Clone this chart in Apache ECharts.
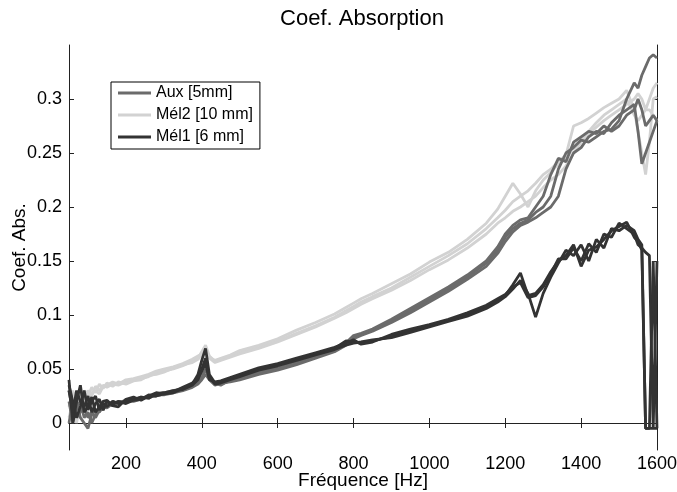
<!DOCTYPE html>
<html>
<head>
<meta charset="utf-8">
<script src="https://cdn.jsdelivr.net/npm/echarts@6/dist/echarts.min.js"></script>
<style>html,body{margin:0;padding:0;background:#fff}#c{width:677px;height:492px}</style>
</head>
<body>
<div id="c"></div>
<script>
// ---- data ----
const freq = [50,60,70,80,90,100,110,120,130,140,150,165,180,200,220,240,260,280,300,325,350,375,390,400,410,420,435,450,475,500,550,600,650,700,750,780,800,820,850,900,950,1000,1050,1100,1150,1180,1200,1220,1240,1260,1280,1300,1320,1340,1360,1380,1400,1420,1440,1460,1480,1500,1520,1540,1550,1560,1570,1580,1590,1600];

const aux1 = [0.03,0.01,0.02,0.005,0.0,-0.005,0.008,0.012,0.01,0.015,0.014,0.018,0.02,0.019,0.022,0.023,0.024,0.025,0.027,0.029,0.031,0.034,0.037,0.043,0.05,0.042,0.036,0.036,0.039,0.041,0.046,0.05,0.055,0.061,0.067,0.073,0.08,0.082,0.086,0.094,0.104,0.114,0.124,0.135,0.148,0.16,0.172,0.18,0.185,0.188,0.195,0.2,0.21,0.235,0.25,0.255,0.262,0.26,0.265,0.27,0.272,0.28,0.3,0.315,0.31,0.322,0.33,0.338,0.341,0.338];
const aux2 = [0.02,0.0,0.015,0.02,0.005,0.01,0.0,0.008,0.015,0.012,0.018,0.016,0.019,0.021,0.02,0.022,0.025,0.026,0.026,0.028,0.03,0.033,0.036,0.04,0.045,0.04,0.035,0.037,0.038,0.04,0.045,0.049,0.054,0.06,0.066,0.072,0.078,0.081,0.085,0.093,0.102,0.112,0.122,0.133,0.145,0.157,0.168,0.177,0.183,0.186,0.19,0.195,0.2,0.21,0.235,0.25,0.255,0.265,0.27,0.268,0.278,0.285,0.29,0.295,0.27,0.24,0.25,0.26,0.27,0.28];
const aux3 = [0.0,0.02,0.005,0.01,0.015,0.005,0.01,0.005,0.012,0.018,0.016,0.02,0.018,0.02,0.021,0.024,0.023,0.027,0.028,0.03,0.032,0.035,0.038,0.045,0.048,0.043,0.037,0.035,0.04,0.042,0.047,0.051,0.056,0.062,0.068,0.074,0.081,0.083,0.087,0.096,0.106,0.116,0.126,0.137,0.15,0.163,0.175,0.183,0.188,0.19,0.2,0.21,0.23,0.245,0.242,0.26,0.265,0.27,0.268,0.275,0.27,0.275,0.285,0.29,0.3,0.29,0.275,0.28,0.285,0.28];

const mel2a = [0.015,0.03,0.02,0.028,0.022,0.03,0.025,0.034,0.03,0.035,0.033,0.036,0.035,0.038,0.04,0.041,0.043,0.046,0.048,0.05,0.053,0.057,0.06,0.066,0.072,0.062,0.057,0.059,0.062,0.065,0.07,0.076,0.083,0.09,0.098,0.104,0.108,0.112,0.117,0.125,0.135,0.145,0.155,0.166,0.18,0.19,0.197,0.205,0.21,0.215,0.222,0.23,0.235,0.242,0.248,0.275,0.278,0.282,0.287,0.292,0.296,0.3,0.308,0.29,0.27,0.25,0.23,0.26,0.3,0.302];
const mel2b = [0.03,0.01,0.025,0.015,0.03,0.025,0.033,0.028,0.036,0.032,0.037,0.034,0.038,0.036,0.039,0.04,0.044,0.045,0.047,0.051,0.054,0.056,0.059,0.063,0.066,0.06,0.056,0.058,0.061,0.064,0.069,0.075,0.082,0.089,0.097,0.102,0.106,0.11,0.115,0.123,0.132,0.142,0.151,0.162,0.175,0.185,0.19,0.196,0.2,0.205,0.21,0.218,0.225,0.23,0.238,0.25,0.26,0.268,0.274,0.28,0.285,0.29,0.295,0.3,0.305,0.3,0.29,0.3,0.31,0.315];
const mel2c = [0.005,0.02,0.0,0.02,0.012,0.02,0.028,0.03,0.027,0.034,0.035,0.038,0.036,0.04,0.041,0.043,0.045,0.048,0.05,0.052,0.055,0.059,0.062,0.064,0.068,0.061,0.058,0.06,0.063,0.067,0.072,0.078,0.086,0.093,0.101,0.107,0.111,0.115,0.12,0.129,0.138,0.149,0.158,0.17,0.185,0.198,0.21,0.222,0.212,0.2,0.215,0.225,0.232,0.24,0.245,0.255,0.262,0.27,0.278,0.285,0.29,0.295,0.3,0.285,0.28,0.285,0.29,0.29,0.285,0.28];

const mel1a = [0.04,0.0,0.02,0.035,0.01,0.015,0.024,0.01,0.015,0.02,0.021,0.016,0.015,0.022,0.024,0.021,0.025,0.028,0.027,0.028,0.032,0.036,0.045,0.058,0.069,0.045,0.037,0.038,0.041,0.044,0.05,0.054,0.059,0.064,0.069,0.076,0.075,0.074,0.076,0.08,0.085,0.09,0.095,0.1,0.108,0.113,0.118,0.128,0.139,0.118,0.12,0.128,0.14,0.15,0.155,0.165,0.145,0.16,0.163,0.17,0.178,0.182,0.186,0.172,0.168,0.16,-0.005,-0.005,-0.005,-0.005];
const mel1b = [0.035,0.02,0.005,0.015,0.03,0.012,0.02,0.025,0.012,0.018,0.015,0.02,0.018,0.02,0.022,0.024,0.023,0.027,0.028,0.03,0.031,0.035,0.04,0.05,0.06,0.042,0.036,0.037,0.04,0.043,0.049,0.053,0.058,0.063,0.068,0.072,0.074,0.075,0.077,0.079,0.084,0.089,0.094,0.099,0.106,0.112,0.117,0.124,0.132,0.12,0.098,0.12,0.135,0.148,0.16,0.155,0.165,0.15,0.17,0.162,0.18,0.178,0.183,0.178,0.17,0.165,-0.005,-0.005,0.15,-0.005];
const mel1c = [0.03,0.01,0.03,0.02,0.015,0.025,0.01,0.018,0.022,0.012,0.02,0.017,0.02,0.018,0.021,0.022,0.026,0.025,0.027,0.029,0.033,0.037,0.042,0.048,0.055,0.04,0.038,0.039,0.042,0.045,0.051,0.055,0.06,0.065,0.07,0.074,0.077,0.073,0.075,0.082,0.087,0.091,0.096,0.102,0.109,0.115,0.119,0.126,0.13,0.116,0.118,0.126,0.138,0.152,0.152,0.162,0.15,0.166,0.158,0.175,0.172,0.185,0.18,0.175,0.165,0.162,0.158,0.155,-0.005,0.15];

const xTicks = [200,400,600,800,1000,1200,1400,1600];
const yTicks = [0,0.05,0.1,0.15,0.2,0.25,0.3];
const names = ['Aux [5mm]','Mél2 [10 mm]','Mél1 [6 mm]'];
const colors = {'Aux [5mm]':'#6b6b6b','Mél2 [10 mm]':'#d2d2d2','Mél1 [6 mm]':'#333333'};

// ---- chart ----
const FONT = '"Liberation Sans", Arial, Helvetica, sans-serif';
const zip = arr => freq.map((f,i)=>[f,arr[i]]);
const mk = (name, arr, z) => ({
  type:'line', name, data: zip(arr), showSymbol:false, symbol:'none',
  lineStyle:{width:2.8, color:colors[name]}, itemStyle:{color:colors[name]},
  z, animation:false, clip:true
});
const series = [
  mk(names[1], mel2a, 2), mk(names[1], mel2b, 2), mk(names[1], mel2c, 2),
  mk(names[0], aux1, 3), mk(names[0], aux2, 3), mk(names[0], aux3, 3),
  mk(names[2], mel1a, 4), mk(names[2], mel1b, 4), mk(names[2], mel1c, 4)
];
const axLine = {show:true, lineStyle:{color:'#222', width:1}};
const lbl = {color:'#000', fontSize:18, fontFamily:FONT};
const chart = echarts.init(document.getElementById('c'), null, {renderer:'canvas'});
chart.setOption({
  animation:false,
  backgroundColor:'#fff',
  textStyle:{fontFamily:FONT},
  title:{text:'Coef. Absorption', left:362, top:8, padding:0, textAlign:'center',
    textStyle:{fontSize:22, fontWeight:'normal', color:'#000', fontFamily:FONT}},
  grid:{left:69, right:20, top:45, bottom:42, containLabel:false, outerBoundsMode:'none'},
  legend:{data:names, orient:'vertical', left:111, top:82, icon:'rect', itemWidth:33, itemHeight:3,
    itemGap:6, padding:[3,7,4,7], borderColor:'#000', borderWidth:1, backgroundColor:'#fff',
    textStyle:{fontSize:16, color:'#000', fontFamily:FONT, lineHeight:16}},
  xAxis:[
    {type:'value', min:50, max:1600, position:'bottom', name:'Fréquence [Hz]', nameLocation:'middle', nameGap:21,
      nameMoveOverlap:false,
      nameTextStyle:{fontSize:19, color:'#000', fontFamily:FONT},
      axisLine:axLine, splitLine:{show:false},
      axisTick:{show:true, inside:true, length:5, customValues:xTicks, lineStyle:{color:'#222'}},
      axisLabel:Object.assign({customValues:xTicks, margin:5, formatter:v=>String(v)}, lbl)},
    {type:'value', min:50, max:1600, position:'top', axisLine:axLine, splitLine:{show:false},
      axisTick:{show:true, inside:true, length:5, customValues:xTicks, lineStyle:{color:'#222'}},
      axisLabel:{show:false}}
  ],
  yAxis:[
    {type:'value', min:-0.025, max:0.35, position:'left', name:'Coef. Abs.', nameLocation:'middle', nameGap:40,
      nameMoveOverlap:false,
      nameTextStyle:{fontSize:19, color:'#000', fontFamily:FONT},
      axisLine:axLine, splitLine:{show:false},
      axisTick:{show:true, inside:true, length:5, customValues:yTicks, lineStyle:{color:'#222'}},
      axisLabel:Object.assign({customValues:yTicks, margin:7, formatter:v=>String(+(+v).toFixed(2))}, lbl)},
    {type:'value', min:-0.025, max:0.35, position:'right', axisLine:axLine, splitLine:{show:false},
      axisTick:{show:true, inside:true, length:5, customValues:yTicks, lineStyle:{color:'#222'}},
      axisLabel:{show:false}}
  ],
  series
});
</script>
</body>
</html>
